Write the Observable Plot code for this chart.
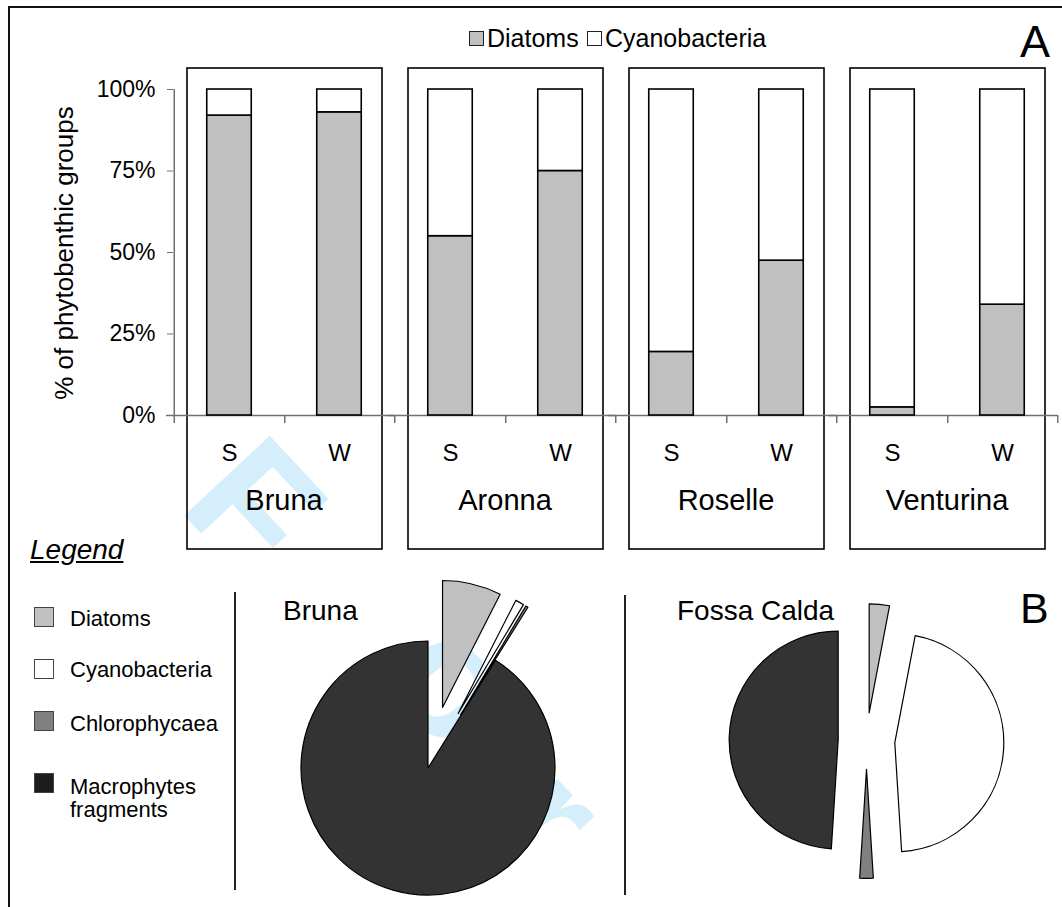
<!DOCTYPE html>
<html>
<head>
<meta charset="utf-8">
<script src="https://cdn.jsdelivr.net/npm/d3@7"></script>
<script src="https://cdn.jsdelivr.net/npm/@observablehq/plot@0.6"></script>
<style>
  body { margin: 0; background: #fff; font-family: "Liberation Sans", Arial, Helvetica, sans-serif; color: #000; }
  #page { position: relative; width: 1062px; height: 907px; overflow: hidden; background: #fff; }
  .abs { position: absolute; line-height: 1; white-space: nowrap; z-index: 2; }
  .sw { position: absolute; box-sizing: border-box; z-index: 2; }
  .wm { position: absolute; z-index: 0; color: #d5eefb; font-size: 170px; font-weight: bold; line-height: 1;
        white-space: nowrap; text-align: center; transform-origin: 50% 50%; }
  svg { z-index: 1; }
</style>
</head>
<body>
<div id="page"></div>
<script>
// ---- Panel A: share of phytobenthic groups per site and season ----
const sites = ["Bruna", "Aronna", "Roselle", "Venturina"];
const seasons = ["S", "W"];
const groupsA = ["Diatoms", "Cyanobacteria"];
// values in %, ordered site by site, S then W
const diatomsPct = [92, 93, 55, 75, 19.5, 47.5, 2.5, 34];
const cyanoPct = [8, 7, 45, 25, 80.5, 52.5, 97.5, 66];
const yTicks = [0, 25, 50, 75, 100];

// ---- Panel B: pie composition ----
const pieSites = ["Bruna", "Fossa Calda"];
const pieGroups = ["Diatoms", "Cyanobacteria", "Chlorophycaea", "Macrophytes fragments"];
const brunaShares = [7.5, 1.1, 0.3, 91.1];
const fossaShares = [3, 46, 2, 49];

const FONT = '"Liberation Sans", Arial, Helvetica, sans-serif';
const page = document.getElementById("page");

function el(tag, cls, css, text) {
  const e = document.createElement(tag);
  if (cls) e.className = cls;
  Object.assign(e.style, css);
  if (text != null) e.textContent = text;
  page.appendChild(e);
  return e;
}
// place a text so that its baseline sits at `base`
function textAt(text, left, base, size, extra = {}) {
  return el("div", "abs", Object.assign({left: left + "px", top: (base - 0.8465 * size) + "px", fontSize: size + "px"}, extra), text);
}

// diagonal watermark letters behind everything (centre of each glyph box)
const wmSize = 170;
const wmLetters = [
  {ch: "F", cx: 255, cy: 505, w: 130},
  {ch: "o", cx: 456, cy: 680, w: 130},
  {ch: "r", cx: 550, cy: 816, w: 90}
];
wmLetters.forEach(l => el("div", "wm", {left: (l.cx - l.w / 2) + "px", top: (l.cy - wmSize / 2) + "px",
  width: l.w + "px", height: wmSize + "px", transform: "rotate(47deg)"}, l.ch));

// outer border
el("div", null, {position: "absolute", left: "8px", top: "6px", width: "1200px", height: "1000px",
  border: "2px solid #111", zIndex: 2});

// ---- Panel A chart ----
const rows = [];
sites.forEach((site, si) => seasons.forEach((season, k) => {
  const i = si * seasons.length + k;
  rows.push({site, season, group: groupsA[0], value: diatomsPct[i] / 100});
  rows.push({site, season, group: groupsA[1], value: cyanoPct[i] / 100});
}));
const cats = rows.filter(d => d.group === groupsA[0]);
const firstCat = cats.slice(0, 1);

const W = 1062, HA = 560;
const mL = 173, mR = 5, mT = 89, mB = HA - 415;
const band = (W - mL - mR) / (sites.length * seasons.length);
const barW = 45;
const barInset = (band - barW) / 2;
const axisGray = "#707070";

const chartA = Plot.plot({
  width: W, height: HA,
  marginLeft: mL, marginRight: mR, marginTop: mT, marginBottom: mB,
  style: {fontFamily: FONT, fontSize: "24px", background: "transparent", overflow: "visible"},
  fx: {domain: sites, padding: 0, label: null},
  x: {domain: seasons, padding: 0, label: null},
  y: {domain: [0, 1], label: null},
  color: {domain: groupsA, range: ["#c0c0c0", "#ffffff"]},
  marks: [
    Plot.frame({stroke: "#000", strokeWidth: 1.6, insetLeft: 13.5, insetRight: 12.5, insetTop: -21.5, insetBottom: -133.5}),
    Plot.ruleY([0], {stroke: axisGray, strokeWidth: 1.5, insetLeft: -7}),
    Plot.ruleX(firstCat, {fx: "site", x: "season", y1: 1, y2: 0, dx: -band / 2, insetBottom: -8, stroke: axisGray, strokeWidth: 1.5}),
    Plot.ruleX(cats, {fx: "site", x: "season", y1: 0, y2: 0, dx: band / 2, insetBottom: -8, stroke: axisGray, strokeWidth: 1.5}),
    Plot.barY(rows, {fx: "site", x: "season", y: "value", fill: "group", stroke: "#000", strokeWidth: 1.6,
      insetLeft: barInset, insetRight: barInset}),
    Plot.axisY({ticks: yTicks.map(d => d / 100), tickFormat: d3.format(".0%"), tickSize: 6, tickPadding: 12,
      fontSize: 23, stroke: axisGray, fill: "#000", label: null}),
    Plot.axisX({tickSize: 0, tickPadding: 28, fontSize: 24, label: null}),
    Plot.axisFx({anchor: "bottom", tickSize: 0, tickPadding: 74, fontSize: 29, label: null})
  ]
});
Object.assign(chartA.style, {position: "absolute", left: "0px", top: "0px"});
page.appendChild(chartA);

// top legend
const legendAColors = ["#c0c0c0", "#ffffff"];
const legendAPos = [469, 587];
groupsA.forEach((g, i) => {
  el("div", "sw", {left: legendAPos[i] + "px", top: "31px", width: "15px", height: "15px",
    background: legendAColors[i], border: "1px solid #222"});
  textAt(g, legendAPos[i] + 18, 47, 25);
});
textAt("A", 1020, 57, 45);

// y axis title
el("div", "abs", {left: (64 - 180) + "px", top: (253 - 13) + "px", width: "360px", height: "26px",
  fontSize: "26px", textAlign: "center", transform: "rotate(-90deg)"}, "% of phytobenthic groups");

// ---- Panel B ----
textAt("Legend", 30, 560, 28, {fontStyle: "italic", textDecoration: "underline"});
const pieColors = ["#c0c0c0", "#ffffff", "#808080", "#1c1c1c"];
const legendRows = [
  {label: ["Diatoms"], top: 607, base: [627]},
  {label: ["Cyanobacteria"], top: 659, base: [678]},
  {label: ["Chlorophycaea"], top: 711, base: [732]},
  {label: ["Macrophytes", "fragments"], top: 773, base: [795, 818]}
];
legendRows.forEach((r, i) => {
  el("div", "sw", {left: "34px", top: r.top + "px", width: "20px", height: "20px",
    background: pieColors[i], border: "1.5px solid #444"});
  r.label.forEach((t, j) => textAt(t, 70, r.base[j], 22));
});

// separators between legend and pies
el("div", null, {position: "absolute", left: "234px", top: "592px", width: "2px", height: "298px", background: "#222", zIndex: 2});
el("div", null, {position: "absolute", left: "624px", top: "595px", width: "2px", height: "300px", background: "#222", zIndex: 2});

const pieFill = ["#c0c0c0", "#ffffff", "#808080", "#333333"];

function pieChart(shares, explode, frame) {
  const slices = pieGroups.map((group, i) => ({group, share: shares[i], explode: explode[i]}));
  return Plot.plot({
    width: frame.width, height: frame.height,
    marginLeft: frame.ml, marginRight: frame.width - frame.ml - 2 * frame.r,
    marginTop: frame.mt, marginBottom: frame.height - frame.mt - 2 * frame.r,
    style: {fontFamily: FONT, background: "transparent", overflow: "visible"},
    x: {domain: [-1, 1], axis: null},
    y: {domain: [-1, 1], axis: null},
    color: {domain: pieGroups, range: pieFill},
    marks: [
      Plot.dot(slices, {
        x: () => 0, y: () => 0, fill: "group",
        render(index, scales) {
          const cx = scales.x(0), cy = scales.y(0), R = scales.x(1) - scales.x(0);
          const arcs = d3.pie().sort(null).value(d => d.share)(Array.from(index, i => slices[i]));
          const arc = d3.arc().innerRadius(0).outerRadius(R);
          const g = d3.create("svg:g");
          g.selectAll("path").data(arcs).join("path")
            .attr("d", arc)
            .attr("fill", d => scales.color(d.data.group))
            .attr("stroke", "#000")
            .attr("stroke-width", 1.2)
            .attr("stroke-linejoin", "round")
            .attr("transform", d => {
              const a = (d.startAngle + d.endAngle) / 2, o = d.data.explode * R;
              return `translate(${cx + Math.sin(a) * o},${cy - Math.cos(a) * o})`;
            });
          return g.node();
        }
      })
    ]
  });
}

const pieB = pieChart(brunaShares, [0.49, 0.49, 0.49, 0], {width: 390, height: 337, ml: 66, mt: 71, r: 127});
Object.assign(pieB.style, {position: "absolute", left: "235px", top: "570px"});
page.appendChild(pieB);
const pieF = pieChart(fossaShares, [0.26, 0.26, 0.26, 0.26], {width: 437, height: 337, ml: 132.5, mt: 62, r: 109});
Object.assign(pieF.style, {position: "absolute", left: "625px", top: "570px"});
page.appendChild(pieF);

textAt(pieSites[0], 283, 621, 28);
textAt(pieSites[1], 677, 621, 28);
textAt("B", 1020, 623, 43);
</script>
</body>
</html>
